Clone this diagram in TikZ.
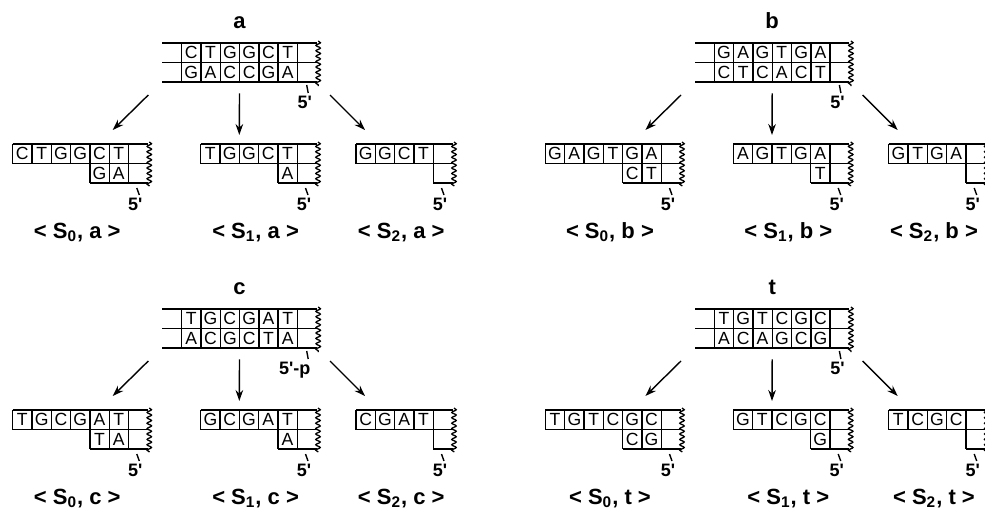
\documentclass[tikz,border=0pt]{standalone}
\usepackage{fontspec}
\setmainfont{Liberation Sans}
\usetikzlibrary{arrows.meta,decorations.pathmorphing}

\newcommand{\cw}{19.3}
\newcommand{\rh}{19.5}

\tikzset{
  strand/.style={line width=0.7pt},
  wave/.style={line width=0.65pt, decorate, decoration={snake, amplitude=1.1pt, segment length=2.7pt}},
  nt/.style={inner sep=0pt, font=\fontsize{8.8}{8.8}\selectfont},
  primelab/.style={inner sep=0pt, anchor=base, font=\fontsize{9}{9}\selectfont\bfseries},
  paneltitle/.style={inner sep=0pt, anchor=base, font=\fontsize{11}{11}\selectfont\bfseries},
  statelab/.style={inner sep=0pt, anchor=base, font=\fontsize{11}{11}\selectfont\bfseries},
  derive/.style={->, >={Stealth[length=5.5pt,width=3.8pt]}, line width=0.7pt},
}

% double strand with overhang, name, title, top, bottom, end label, label shift
\newcommand{\parentstrand}[6]{%
  \begin{scope}[shift={(162.3,43)}]
    \foreach \r in {0,1,2}
      \draw[strand] (0,\r*\rh) -- (8*\cw,\r*\rh);
    \foreach \k in {1,...,7}
      \draw[strand] (\k*\cw,0) -- (\k*\cw,2*\rh);
    \foreach \l [count=\i] in {#3}
      \node[nt] (#1-t\i) at ({(\i+0.5)*\cw},0.5*\rh) {\l};
    \foreach \l [count=\i] in {#4}
      \node[nt] (#1-b\i) at ({(\i+0.5)*\cw},1.5*\rh) {\l};
    \draw[wave] (8*\cw+1.5,-2) -- (8*\cw+1.5,2*\rh+4);
    \node[paneltitle] (#1) at (4*\cw,-14.5) {#2};
    \draw[strand] (8*\cw-10,2*\rh+3) -- (8*\cw-8.5,2*\rh+11);
    \node[primelab] (#1-5) at (8*\cw+#6,2*\rh+26.5) {#5};
    \coordinate (#1-o0) at (-14,52);
    \coordinate (#1-o1) at (4*\cw,50.3);
    \coordinate (#1-o2) at (167.7,52);
  \end{scope}}

% cut strand, name, left x, top count, top, first bottom column, bottom, state, arrow end
\newcommand{\childstrand}[8]{%
  \begin{scope}[shift={(#2,144)}]
    \pgfmathtruncatemacro{\ntop}{#3}
    \pgfmathtruncatemacro{\mbot}{#5}
    \draw[strand] (0,0) -- ({(\ntop+1)*\cw},0);
    \draw[strand] (0,\rh) -- ({(\ntop+1)*\cw},\rh);
    \draw[strand] (\mbot*\cw,2*\rh) -- ({(\ntop+1)*\cw},2*\rh);
    \foreach \k in {0,...,\ntop}
      \draw[strand] (\k*\cw,0) -- (\k*\cw,\rh);
    \foreach \k in {\mbot,...,\ntop}
      \draw[strand] (\k*\cw,\rh) -- (\k*\cw,2*\rh);
    \foreach \l [count=\i from 0] in {#4}
      \node[nt] (#1-t\i) at ({(\i+0.5)*\cw},0.5*\rh) {\l};
    \if\relax\detokenize{#6}\relax\else
      \foreach \l [count=\i from \mbot] in {#6}
        \node[nt] (#1-b\i) at ({(\i+0.5)*\cw},1.5*\rh) {\l};
    \fi
    \draw[wave] ({(\ntop+1)*\cw+1.5},-2) -- ({(\ntop+1)*\cw+1.5},2*\rh+3);
    \draw[strand] ({(\ntop+1)*\cw-11},2*\rh+5) -- ({(\ntop+1)*\cw-8.5},2*\rh+12);
    \node[primelab] (#1-5) at ({(\ntop+1)*\cw-12.5},2*\rh+27) {5\textquotesingle};
    \node[statelab] (#1-s) at ({(\ntop+1)*\cw/2-3},94) {#7};
    \coordinate (#1-in) at (#8);
  \end{scope}}

\begin{document}
\begin{tikzpicture}[x=0.5pt,y=-0.5pt]
  \useasboundingbox (0,0) rectangle (985,509);
  \clip (0,0) rectangle (985,509);

  % a
  \begin{scope}
    \parentstrand{a}{a}{C,T,G,G,C,T}{G,A,C,C,G,A}{5\textquotesingle}{-12}
    \childstrand{a0}{12.7}{6}{C,T,G,G,C,T}{4}{G,A}{< S\textsubscript{0}, a >}{100,-14}
    \childstrand{a1}{200.7}{5}{T,G,G,C,T}{4}{A}{< S\textsubscript{1}, a >}{38.6,-9}
    \childstrand{a2}{356}{4}{G,G,C,T}{4}{}{< S\textsubscript{2}, a >}{9,-14}
    \draw[derive] (a-o0) -- (a0-in);
    \draw[derive] (a-o1) -- (a1-in);
    \draw[derive] (a-o2) -- (a2-in);
  \end{scope}

  % b
  \begin{scope}[shift={(532.7,0)}]
    \parentstrand{b}{b}{G,A,G,T,G,A}{C,T,C,A,C,T}{5\textquotesingle}{-12}
    \childstrand{b0}{12.7}{6}{G,A,G,T,G,A}{4}{C,T}{< S\textsubscript{0}, b >}{100,-14}
    \childstrand{b1}{200.7}{5}{A,G,T,G,A}{4}{T}{< S\textsubscript{1}, b >}{38.6,-9}
    \childstrand{b2}{356}{4}{G,T,G,A}{4}{}{< S\textsubscript{2}, b >}{9,-14}
    \draw[derive] (b-o0) -- (b0-in);
    \draw[derive] (b-o1) -- (b1-in);
    \draw[derive] (b-o2) -- (b2-in);
  \end{scope}

  % c
  \begin{scope}[shift={(0,266)}]
    \parentstrand{c}{c}{T,G,C,G,A,T}{A,C,G,C,T,A}{5\textquotesingle-p}{-22}
    \childstrand{c0}{12.7}{6}{T,G,C,G,A,T}{4}{T,A}{< S\textsubscript{0}, c >}{100,-14}
    \childstrand{c1}{200.7}{5}{G,C,G,A,T}{4}{A}{< S\textsubscript{1}, c >}{38.6,-9}
    \childstrand{c2}{356}{4}{C,G,A,T}{4}{}{< S\textsubscript{2}, c >}{9,-14}
    \draw[derive] (c-o0) -- (c0-in);
    \draw[derive] (c-o1) -- (c1-in);
    \draw[derive] (c-o2) -- (c2-in);
  \end{scope}

  % t
  \begin{scope}[shift={(532.7,266)}]
    \parentstrand{t}{t}{T,G,T,C,G,C}{A,C,A,G,C,G}{5\textquotesingle}{-12}
    \childstrand{t0}{12.7}{6}{T,G,T,C,G,C}{4}{C,G}{< S\textsubscript{0}, t >}{100,-14}
    \childstrand{t1}{200.7}{5}{G,T,C,G,C}{4}{G}{< S\textsubscript{1}, t >}{38.6,-9}
    \childstrand{t2}{356}{4}{T,C,G,C}{4}{}{< S\textsubscript{2}, t >}{9,-14}
    \draw[derive] (t-o0) -- (t0-in);
    \draw[derive] (t-o1) -- (t1-in);
    \draw[derive] (t-o2) -- (t2-in);
  \end{scope}
\end{tikzpicture}
\end{document}
